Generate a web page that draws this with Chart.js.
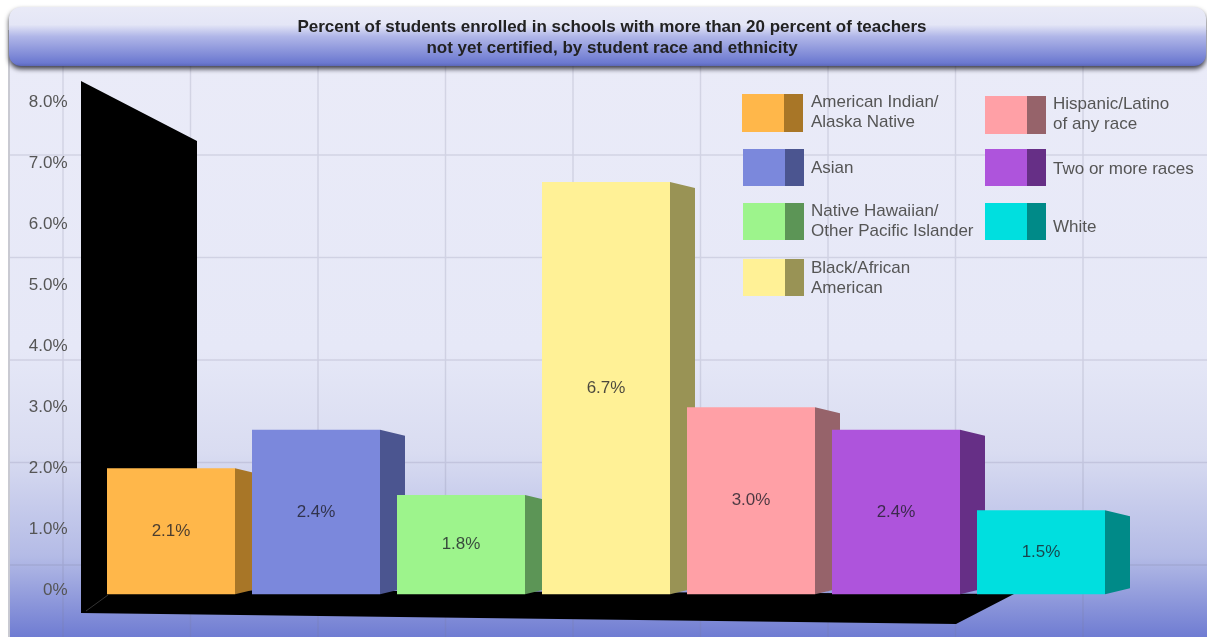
<!DOCTYPE html>
<html>
<head>
<meta charset="utf-8">
<title>Teachers not yet certified</title>
<script src="https://cdn.jsdelivr.net/npm/chart.js@4/dist/chart.umd.js"></script>
<style>
    html, body { margin: 0; padding: 0; background: #fff; overflow: hidden; }
    canvas { display: block; filter: blur(0.7px); }
</style>
</head>
<body>
<canvas id="grafico" width="1207" height="637"></canvas>
<script>
// Dados
const titulo = ['Percent of students enrolled in schools with more than 20 percent of teachers',
    'not yet certified, by student race and ethnicity'];
const categorias = ['American Indian/ Alaska Native', 'Asian', 'Native Hawaiian/ Other Pacific Islander',
    'Black/African American', 'Hispanic/Latino of any race', 'Two or more races', 'White'];
// altura das barras lida no eixo (o desenho original nao bate exatamente com os rotulos)
const alturas = [2.0, 2.63, 1.56, 6.7, 3.0, 2.63, 1.31];
const rotulos = ['2.1%', '2.4%', '1.8%', '6.7%', '3.0%', '2.4%', '1.5%'];
const yTicks = [0, 1, 2, 3, 4, 5, 6, 7, 8];
const yRotulos = ['0%', '1.0%', '2.0%', '3.0%', '4.0%', '5.0%', '6.0%', '7.0%', '8.0%'];

const coresFrente = ['#ffb74a', '#7b88dc', '#9df48c', '#fff196', '#ffa0a6', '#ae54dc', '#00dfdf'];
const coresLado = ['#a87627', '#4b5590', '#5c9556', '#999355', '#96636a', '#662f86', '#008a88'];

// legenda: x, y, altura da caixa e as linhas de texto com o y de cada uma
const legenda = [
    { i: 0, x: 742, y: 94, h: 38, linhas: [['American Indian/', 102], ['Alaska Native', 122]] },
    { i: 1, x: 743, y: 149, h: 37, linhas: [['Asian', 168]] },
    { i: 2, x: 743, y: 203, h: 37, linhas: [['Native Hawaiian/', 211], ['Other Pacific Islander', 231]] },
    { i: 3, x: 743, y: 259, h: 37, linhas: [['Black/African', 268], ['American', 288]] },
    { i: 4, x: 985, y: 96, h: 38, linhas: [['Hispanic/Latino', 104], ['of any race', 124]] },
    { i: 5, x: 985, y: 149, h: 37, linhas: [['Two or more races', 169]] },
    { i: 6, x: 985, y: 203, h: 37, linhas: [['White', 227]] }
];

const FONTE = '"Liberation Sans", Arial, sans-serif';
const CINZA = '#555';

function poligono(ctx, pontos, cor) {
    ctx.fillStyle = cor;
    ctx.beginPath();
    pontos.forEach((p, i) => i ? ctx.lineTo(p[0], p[1]) : ctx.moveTo(p[0], p[1]));
    ctx.closePath();
    ctx.fill();
}

// fundo, grade, faixa do titulo, parede e piso pretos
const fundo = {
    id: 'fundo',
    beforeDraw(chart) {
        const ctx = chart.ctx;
        ctx.save();
        ctx.fillStyle = '#fff';
        ctx.fillRect(0, 0, 1207, 637);

        let g = ctx.createLinearGradient(0, 60, 0, 637);
        g.addColorStop(0, '#eaebf8');
        g.addColorStop(0.5, '#e6e8f7');
        g.addColorStop(0.68, '#d9dcf1');
        g.addColorStop(0.86, '#b4bbe6');
        g.addColorStop(1, '#6f7cd2');
        ctx.fillStyle = g;
        ctx.fillRect(10, 30, 1197, 607);
        ctx.fillStyle = '#c9cad2';
        ctx.fillRect(8, 30, 2, 607);

        ctx.strokeStyle = 'rgba(120, 120, 150, 0.2)';
        ctx.lineWidth = 1.5;
        ctx.beginPath();
        for (let x = 63; x < 1207; x += 127.5) { ctx.moveTo(x, 66); ctx.lineTo(x, 637); }
        for (let y = 155; y < 637; y += 102.5) { ctx.moveTo(10, y); ctx.lineTo(1207, y); }
        ctx.stroke();

        // faixa do titulo
        g = ctx.createLinearGradient(0, 7, 0, 66);
        g.addColorStop(0, '#e9eaf7');
        g.addColorStop(0.3, '#e4e6f6');
        g.addColorStop(0.5, '#b0b6e8');
        g.addColorStop(0.95, '#6b78d0');
        g.addColorStop(1, '#5b67b8');
        ctx.save();
        ctx.shadowColor = 'rgba(30, 30, 40, 0.85)';
        ctx.shadowBlur = 5;
        ctx.shadowOffsetY = 3;
        ctx.fillStyle = g;
        ctx.beginPath();
        ctx.roundRect(9, 7, 1197, 59, 12);
        ctx.fill();
        ctx.restore();

        // parede e piso
        poligono(ctx, [[81, 81], [197, 141], [197, 590], [1014, 594], [956, 624], [81, 613]], '#000');
        ctx.strokeStyle = '#333';
        ctx.lineWidth = 1;
        ctx.beginPath();
        ctx.moveTo(86, 611);
        ctx.lineTo(108, 595);
        ctx.stroke();
        ctx.restore();
    }
};

// lado das barras em "3D", desenhado antes das frentes
const barras3d = {
    id: 'barras3d',
    beforeDatasetsDraw(chart) {
        const ctx = chart.ctx;
        chart.getDatasetMeta(0).data.forEach((bar, i) => {
            const dir = bar.x + bar.width / 2;
            poligono(ctx, [[dir, bar.y], [dir + 25, bar.y + 6], [dir + 25, bar.base - 6], [dir, bar.base]], coresLado[i]);
        });
    },
    afterDatasetsDraw(chart) {
        const ctx = chart.ctx;
        ctx.save();
        ctx.font = '17px ' + FONTE;
        ctx.textAlign = 'center';
        ctx.textBaseline = 'middle';
        ctx.fillStyle = 'rgba(30, 30, 40, 0.8)';
        chart.getDatasetMeta(0).data.forEach((bar, i) => {
            ctx.fillText(rotulos[i], bar.x, (bar.y + bar.base) / 2);
        });
        ctx.restore();
    }
};

const legenda3d = {
    id: 'legenda3d',
    afterDatasetsDraw(chart) {
        const ctx = chart.ctx;
        ctx.save();
        legenda.forEach(item => {
            ctx.fillStyle = coresFrente[item.i];
            ctx.fillRect(item.x, item.y, 42, item.h);
            ctx.fillStyle = coresLado[item.i];
            ctx.fillRect(item.x + 42, item.y, 19, item.h);
            ctx.fillStyle = CINZA;
            ctx.font = '17px ' + FONTE;
            ctx.textBaseline = 'middle';
            item.linhas.forEach(l => ctx.fillText(l[0], item.x < 900 ? 811 : 1053, l[1]));
        });
        ctx.restore();
    }
};

new Chart(document.getElementById('grafico').getContext('2d'), {
    type: 'bar',
    data: {
        labels: categorias,
        datasets: [{
            data: alturas,
            base: -0.07,
            backgroundColor: coresFrente,
            barPercentage: 1,
            categoryPercentage: 128 / 145
        }]
    },
    plugins: [fundo, barras3d, legenda3d],
    options: {
        responsive: false,
        animation: false,
        layout: { padding: { left: 17, right: 0, top: 0, bottom: 0 } },
        plugins: {
            legend: { display: false },
            tooltip: { enabled: false },
            title: {
                display: true,
                text: titulo,
                color: '#222',
                font: { family: FONTE, size: 17, weight: 'bold', lineHeight: 21 / 17 },
                padding: { top: 17, bottom: 9 }
            }
        },
        scales: {
            x: { display: false },
            y: {
                min: -0.772,
                max: 8.571,
                grid: { display: false, drawTicks: false },
                border: { display: false },
                afterBuildTicks(scale) { scale.ticks = yTicks.map(v => ({ value: v })); },
                afterFit(scale) {
                    scale.width = 81.5;
                    // sem isso o chart.js tira a folga dos rotulos da area util
                    scale.paddingTop = 0;
                    scale.paddingBottom = 0;
                },
                ticks: {
                    padding: 31,
                    autoSkip: false,
                    color: CINZA,
                    font: { family: FONTE, size: 17 },
                    callback: v => yRotulos[yTicks.indexOf(v)]
                }
            },
            // eixo vazio so para reservar a margem direita
            margem: {
                position: 'right',
                grid: { display: false },
                border: { display: false },
                ticks: { display: false },
                afterFit(scale) { scale.width = 93.5; }
            }
        }
    }
});
</script>
</body>
</html>
